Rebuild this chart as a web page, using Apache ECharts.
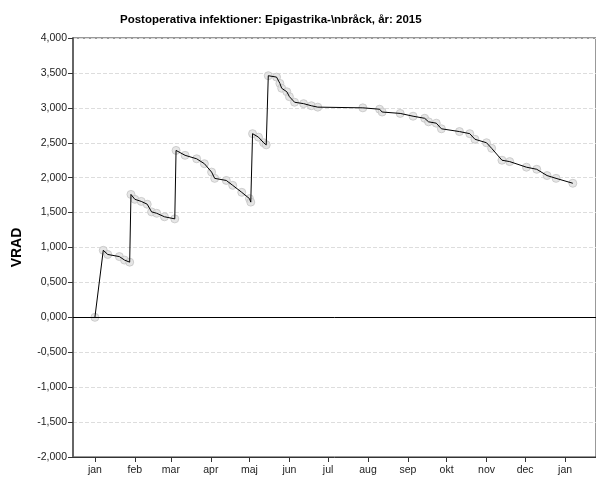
<!DOCTYPE html>
<html>
<head>
    <meta charset="utf-8">
    <script type="text/javascript" src="https://cdn.jsdelivr.net/npm/echarts@6/dist/echarts.min.js"></script>
    <style>
        html, body { margin: 0; padding: 0; background: #fff; }
        #container { width: 596px; height: 477px; }
    </style>
</head>
<body>
    <div id="container"></div>
<script type="text/javascript">
    // dag i året (0 = 1 jan 2015) och VRAD-värde
    var days = [0, 6.5, 10, 19, 23, 27, 28, 31, 36, 40.6, 44, 48, 54, 62,
        63, 70, 79, 85, 90.6, 93, 102, 107, 114, 120, 121,
        122.4, 127, 131, 133, 134.6, 141, 143.6, 145, 149, 151, 155, 162, 168, 173,
        208, 221, 223, 237, 247, 256, 259, 265, 269, 283, 291, 295, 304, 308,
        316, 322, 335, 343, 351, 358, 371];
    var vrad = [0, 0.96, 0.90, 0.87, 0.82, 0.79, 1.76, 1.69, 1.66, 1.62, 1.51, 1.49, 1.44, 1.41,
        2.39, 2.32, 2.27, 2.20, 2.08, 1.99, 1.96, 1.89, 1.79, 1.70, 1.65,
        2.63, 2.58, 2.50, 2.47, 3.46, 3.44, 3.35, 3.28, 3.23, 3.16, 3.08, 3.06, 3.03, 3.01,
        3.00, 2.98, 2.94, 2.92, 2.88, 2.85, 2.80, 2.78, 2.70, 2.66, 2.63, 2.55, 2.50, 2.42,
        2.25, 2.23, 2.15, 2.12, 2.03, 1.99, 1.92];
    // månadsstarter
    var monthDays = [0, 31, 59, 90, 120, 151, 181, 212, 243, 273, 304, 334, 365];
    var monthNames = ['jan', 'feb', 'mar', 'apr', 'maj', 'jun', 'jul', 'aug', 'sep', 'okt', 'nov', 'dec', 'jan'];

    var points = days.map(function (d, i) {
        return [d, vrad[i]];
    });

    var dom = document.getElementById('container');
    var myChart = echarts.init(dom);
    var option = {
        backgroundColor: '#fff',
        animation: false,
        textStyle: { fontFamily: 'Liberation Sans, Arial, sans-serif' },
        title: {
            text: 'Postoperativa infektioner: Epigastrika-\\nbråck, år: 2015',
            left: 115,
            top: 9,
            textStyle: { fontSize: 11.5, fontWeight: 'bold', color: '#000' }
        },
        grid: {
            left: 73, right: 0, top: 38, bottom: 20,
            show: true, borderColor: '#333', borderWidth: 1
        },
        xAxis: {
            type: 'value',
            min: -17,
            max: 389,
            axisLine: { show: true, onZero: false, lineStyle: { color: '#333' } },
            axisTick: { show: true, length: 5, customValues: monthDays, lineStyle: { color: '#333' } },
            axisLabel: {
                customValues: monthDays,
                fontSize: 10.5, color: '#222', margin: 8,
                formatter: function (v) {
                    return monthNames[monthDays.indexOf(v)];
                }
            },
            splitLine: { show: false }
        },
        yAxis: {
            type: 'value',
            min: -2,
            max: 4,
            interval: 0.5,
            name: 'VRAD',
            nameLocation: 'middle',
            nameGap: 49,
            nameTextStyle: { fontSize: 14, fontWeight: 'bold', color: '#000' },
            axisLine: { show: true, onZero: false, lineStyle: { color: '#666', width: 2 } },
            axisTick: { show: true, length: 5, lineStyle: { color: '#333' } },
            axisLabel: {
                fontSize: 10.5, color: '#222', margin: 6,
                formatter: function (v) {
                    return v.toFixed(3).replace('.', ',');
                }
            },
            splitLine: { show: true, lineStyle: { color: '#ddd', type: 'dashed' } }
        },
        series: [{
            type: 'scatter',
            data: points,
            z: 1,
            symbolSize: 8,
            itemStyle: { color: '#e0e0e0', borderColor: '#c4c4c4', borderWidth: 1 }
        }, {
            type: 'line',
            data: points,
            z: 2,
            symbol: 'none',
            lineStyle: { color: '#000', width: 1 },
            markLine: {
                silent: true,
                symbol: 'none',
                label: { show: false },
                lineStyle: { color: '#000', width: 1, type: 'solid' },
                data: [{ yAxis: 0 }]
            }
        }]
    };
    myChart.setOption(option);
</script>
</body>
</html>
